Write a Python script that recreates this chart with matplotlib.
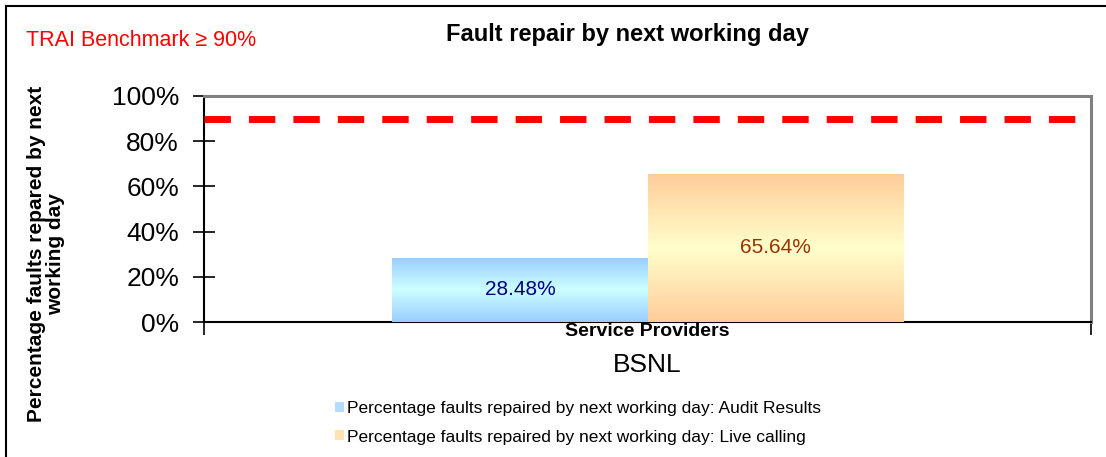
import numpy as np
import matplotlib
matplotlib.use('Agg')
import matplotlib.pyplot as plt
from matplotlib.colors import LinearSegmentedColormap
from matplotlib.patches import Patch
from matplotlib.lines import Line2D

plt.rcParams['font.family'] = ['Liberation Sans', 'DejaVu Sans']

providers = ['BSNL']
series_names = ['Percentage faults repaired by next working day: Audit Results',
                'Percentage faults repaired by next working day: Live calling']
audit_results = [28.48]
live_calling = [65.64]
benchmark = 90

fig = plt.figure(figsize=(11.06, 4.57), dpi=100)
ax = fig.add_axes([204 / 1106, 1 - 322 / 457, (1091 - 204) / 1106, (322 - 96) / 457])

x = np.arange(len(providers))
w = 0.2875
blue_bars = ax.bar(x - w / 2, audit_results, w, color='#b3e6ff', zorder=2)
orange_bars = ax.bar(x + w / 2, live_calling, w, color='#ffe0b0', zorder=2)

# gradient fills like the office chart
blue_cmap = LinearSegmentedColormap.from_list('b', ['#99ccff', '#ccffff', '#99ccff'])
orange_cmap = LinearSegmentedColormap.from_list('o', ['#ffcc99', '#ffffcc', '#ffcc99'])
grad = np.linspace(0, 1, 256).reshape(-1, 1)
for bars, cmap in [(blue_bars, blue_cmap), (orange_bars, orange_cmap)]:
    for b in bars:
        x0, y0 = b.get_x(), b.get_y()
        x1, y1 = x0 + b.get_width(), y0 + b.get_height()
        im = ax.imshow(grad, cmap=cmap, extent=(x0, x1, y0, y1), aspect='auto',
                       origin='upper', zorder=3)
        im.set_clip_path(b)

ax.bar_label(blue_bars, labels=['%.2f%%' % v for v in audit_results], label_type='center',
             color='#000080', fontsize=15, zorder=5)
ax.bar_label(orange_bars, labels=['%.2f%%' % v for v in live_calling], label_type='center',
             color='#993300', fontsize=15, zorder=5)

ax.axhline(benchmark, color='#ff0000', lw=5, dashes=(3.8, 2.6), zorder=4)

ax.set_xlim(-0.5, len(providers) - 0.5)
ax.set_ylim(0, 100)
ax.set_yticks([0, 20, 40, 60, 80, 100])
ax.set_yticklabels(['%d%%' % v for v in [0, 20, 40, 60, 80, 100]], fontsize=19)
ax.tick_params(axis='y', direction='inout', length=16, width=1.2, pad=10)
ax.set_xticks(x)
ax.set_xticklabels(providers, fontsize=19)
ax.tick_params(axis='x', length=0, pad=22)
ax.set_xticks([-0.5, len(providers) - 0.5], minor=True)
ax.tick_params(axis='x', which='minor', direction='out', length=9, width=1.2)

for s in ['top', 'right']:
    ax.spines[s].set_color('#808080')
    ax.spines[s].set_linewidth(2.2)
ax.spines['left'].set_linewidth(1.5)
ax.spines['bottom'].set_linewidth(1.5)

ax.text(0.5, -0.005, 'Service Providers', transform=ax.transAxes, ha='center', va='top',
        fontsize=14, fontweight='bold')

fig.text(46 / 1106, 1 - 254 / 457, 'Percentage faults repared by next\nworking day',
         rotation=90, ha='center', va='center', fontsize=15, fontweight='bold',
         linespacing=1.05)
fig.text(627 / 1106, 1 - 35 / 457, 'Fault repair by next working day', ha='center',
         va='center', fontsize=17, fontweight='bold')
fig.text(26 / 1106, 1 - 40 / 457, 'TRAI Benchmark \u2265 90%', ha='left', va='center',
         fontsize=15.5, color='#ff0000')

handles = [Patch(facecolor='#b3dcff', edgecolor='none'),
           Patch(facecolor='#ffe3b0', edgecolor='none')]
fig.legend(handles, series_names, loc='center', bbox_to_anchor=(578 / 1106, 1 - 423 / 457),
           frameon=False, fontsize=12.5, handlelength=0.5, handleheight=0.5,
           handletextpad=0.2, labelspacing=0.75)

# outer frame (top and left edges visible)
fig.add_artist(Line2D([6 / 1106, 1], [1 - 6 / 457] * 2, color='black', lw=1.5))
fig.add_artist(Line2D([6 / 1106] * 2, [0, 1 - 6 / 457], color='black', lw=1.5))

fig.savefig('out.png', dpi=100)
